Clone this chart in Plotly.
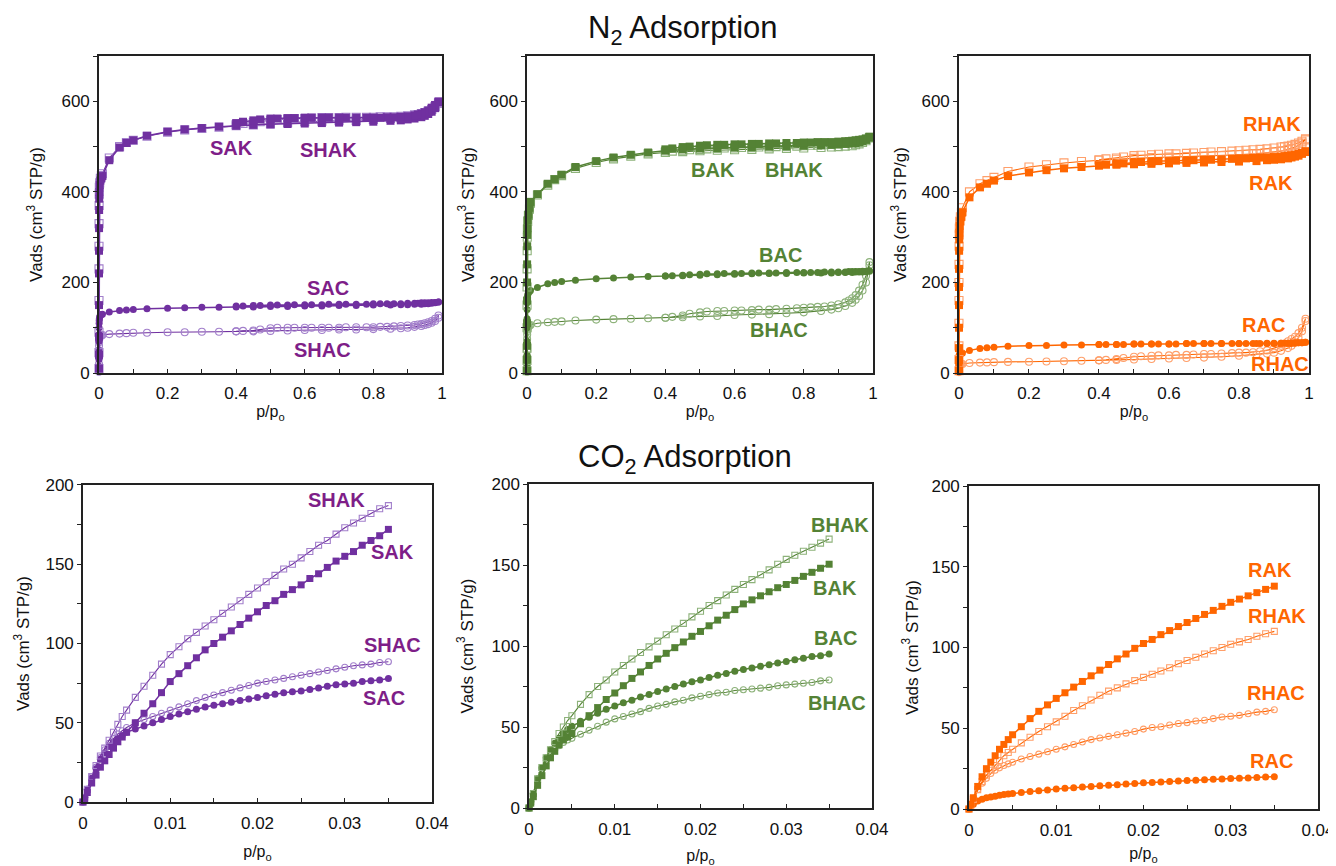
import plotly.graph_objects as go

# ---------------- data ----------------
N2_ADS_P = [0.000001, 0.000005, 0.00001, 0.00003, 0.00006, 0.0001, 0.0002, 0.0004, 0.0007, 0.001,
            0.002, 0.004, 0.007, 0.01, 0.03, 0.06, 0.08, 0.1, 0.14, 0.2, 0.25, 0.3, 0.35, 0.4,
            0.45, 0.5, 0.55, 0.6, 0.65, 0.7, 0.75, 0.8, 0.85, 0.88, 0.9, 0.92, 0.94, 0.95, 0.96,
            0.97, 0.98, 0.99]
N2_DES_P = [0.99, 0.98, 0.97, 0.96, 0.95, 0.94, 0.93, 0.92, 0.9, 0.88, 0.86, 0.84, 0.82, 0.8,
            0.78, 0.75, 0.72, 0.7, 0.67, 0.65, 0.62, 0.6, 0.57, 0.55, 0.52, 0.5, 0.47, 0.45,
            0.42, 0.4]

SAK_ADS = [10, 40, 80, 150, 220, 270, 320, 360, 385, 400, 415, 425, 430, 435, 470, 498, 508, 514,
           524, 533, 538, 541, 544, 546, 548, 549, 550, 551, 552, 553, 554, 555, 557, 558, 560,
           562, 565, 568, 572, 577, 585, 598]
SAK_DES = [600, 592, 586, 580, 576, 573, 571, 569, 567, 566, 565, 565, 564, 564, 564, 564, 564,
           564, 564, 564, 564, 564, 563, 563, 562, 562, 560, 558, 555, 552]
SHAK_ADS = [10, 45, 90, 160, 230, 280, 330, 370, 395, 410, 420, 430, 436, 440, 475, 500, 509, 514,
            523, 532, 537, 540, 543, 546, 548, 550, 553, 555, 556, 557, 558, 560, 562, 564, 566,
            568, 571, 574, 578, 582, 588, 596]
SHAK_DES = [596, 588, 582, 578, 575, 573, 571, 570, 568, 567, 566, 566, 566, 565, 565, 565, 565,
            564, 564, 564, 563, 562, 562, 561, 560, 558, 555, 553, 551, 549]
SAC_ADS = [5, 15, 30, 50, 70, 85, 100, 110, 116, 120, 124, 127, 129, 130, 135, 138, 139, 140, 142,
           143, 144, 145, 145, 146, 146, 147, 147, 148, 148, 149, 149, 150, 150, 151, 151, 152,
           152, 153, 153, 154, 155, 157]
SAC_DES = [157, 156, 156, 155, 155, 155, 154, 154, 154, 153, 153, 153, 153, 153, 152, 152, 152,
           152, 152, 151, 151, 151, 151, 150, 150, 150, 149, 149, 148, 148]
SHAC_ADS = [3, 10, 20, 35, 50, 60, 68, 73, 76, 78, 80, 82, 83, 84, 86, 87, 88, 89, 89, 90, 90, 91,
            91, 92, 92, 93, 94, 95, 95, 96, 96, 97, 98, 99, 100, 102, 104, 106, 108, 111, 115, 122]
SHAC_DES = [127, 120, 115, 112, 110, 108, 107, 106, 105, 104, 103, 102, 102, 101, 101, 101, 101,
            100, 100, 100, 100, 100, 100, 100, 100, 99, 96, 94, 93, 92]

BAK_ADS = [5, 30, 60, 110, 160, 200, 240, 280, 305, 320, 338, 350, 365, 378, 395, 418, 428, 438,
           455, 468, 476, 482, 487, 491, 494, 496, 497, 498, 499, 500, 501, 502, 503, 504, 505,
           506, 507, 508, 510, 512, 515, 520]
BAK_DES = [522, 518, 516, 515, 514, 513, 512, 512, 511, 510, 510, 510, 509, 509, 508, 508, 507,
           507, 506, 506, 505, 505, 504, 504, 503, 502, 500, 499, 496, 494]
BHAK_ADS = [5, 28, 55, 100, 150, 190, 230, 270, 300, 318, 335, 348, 362, 375, 393, 415, 427, 436,
            452, 465, 473, 479, 484, 487, 489, 491, 492, 493, 494, 495, 496, 497, 498, 499, 500,
            501, 502, 504, 506, 509, 513, 519]
BHAK_DES = [520, 516, 513, 511, 510, 509, 508, 507, 506, 505, 504, 503, 503, 502, 501, 500, 500,
            499, 499, 498, 498, 497, 497, 496, 495, 494, 493, 492, 490, 488]
BAC_ADS = [5, 20, 40, 70, 100, 120, 140, 155, 163, 168, 173, 177, 180, 182, 189, 197, 200, 202,
           205, 208, 210, 212, 213, 214, 215, 216, 217, 218, 219, 220, 220, 221, 221, 221, 222,
           222, 222, 223, 223, 223, 224, 225]
BAC_DES = [226, 225, 225, 224, 224, 224, 224, 223, 223, 223, 223, 222, 222, 222, 222, 222, 221,
           221, 221, 221, 220, 220, 220, 219, 219, 218, 217, 216, 215, 214]
BHAC_ADS = [3, 10, 20, 35, 50, 62, 75, 85, 92, 96, 100, 103, 105, 106, 110, 112, 113, 114, 116,
            118, 119, 120, 121, 122, 123, 125, 126, 128, 129, 130, 132, 134, 137, 140, 143, 148,
            155, 162, 170, 182, 200, 238]
BHAC_DES = [245, 215, 195, 182, 172, 165, 160, 156, 152, 149, 147, 146, 145, 144, 143, 142, 141,
            140, 140, 139, 138, 138, 137, 137, 136, 134, 131, 127, 124, 122]

RHAK_ADS = [5, 30, 60, 110, 160, 200, 240, 280, 305, 320, 335, 345, 355, 365, 400, 418, 425, 432,
            445, 455, 460, 464, 467, 470, 472, 474, 476, 477, 478, 479, 480, 482, 484, 486, 488,
            490, 494, 496, 499, 503, 508, 515]
RHAK_DES = [517, 512, 508, 505, 503, 501, 500, 499, 497, 495, 494, 493, 492, 491, 490, 489, 488,
            487, 486, 485, 484, 484, 483, 482, 481, 480, 477, 475, 473, 471]
RAK_ADS = [5, 28, 55, 100, 150, 190, 230, 270, 295, 310, 325, 335, 345, 355, 388, 410, 418, 425,
           435, 443, 448, 452, 455, 458, 460, 461, 462, 463, 464, 465, 466, 467, 468, 470, 471,
           472, 474, 476, 478, 480, 484, 488]
RAK_DES = [490, 486, 484, 482, 481, 480, 479, 478, 477, 476, 476, 475, 474, 474, 473, 472, 471,
           471, 470, 469, 469, 468, 468, 467, 466, 465, 463, 462, 460, 459]
RAC_ADS = [3, 8, 14, 20, 26, 30, 34, 37, 39, 40, 41, 42, 43, 44, 50, 54, 56, 57, 59, 61, 61, 62,
           62, 63, 63, 64, 64, 64, 65, 65, 65, 65, 65, 65, 65, 66, 66, 66, 66, 67, 67, 68]
RAC_DES = [68, 67, 67, 67, 66, 66, 66, 66, 66, 66, 65, 65, 65, 65, 65, 65, 65, 65, 65, 65, 64, 64,
           64, 64, 64, 64, 63, 63, 63, 63]
RHAC_ADS = [2, 5, 8, 11, 13, 14, 15, 16, 17, 18, 19, 19, 20, 20, 22, 23, 23.5, 24, 24.5, 25, 25.5,
            26, 27, 28, 29, 30, 31, 32, 33, 34, 36, 38, 41, 43, 45, 49, 55, 60, 68, 78, 92, 115]
RHAC_DES = [120, 100, 88, 80, 75, 70, 65, 60, 55, 50, 48, 46, 45, 45, 44, 43, 42, 42, 41, 40, 40,
            39, 39, 38, 37, 36, 33, 31, 29, 28]

CO2_P = [0, 0.0002, 0.0005, 0.001, 0.0015, 0.002, 0.0025, 0.003, 0.0035, 0.004, 0.0045, 0.005,
         0.006, 0.007, 0.008, 0.009, 0.010, 0.011, 0.012, 0.013, 0.014, 0.015, 0.016, 0.017,
         0.018, 0.019, 0.020, 0.021, 0.022, 0.023, 0.024, 0.025, 0.026, 0.027, 0.028, 0.029,
         0.030, 0.031, 0.032, 0.033, 0.034, 0.035]

CO2_SHAK = [0, 3, 8, 16, 23, 29, 34, 39, 44, 49, 54, 58, 66, 73, 80, 87, 93, 98, 103, 107, 111,
            115, 119, 123, 127, 131, 135, 139, 143, 147, 150, 154, 158, 162, 165, 169, 173, 176,
            179, 182, 185, 187]
CO2_SAK = [0, 2, 6, 12, 17, 22, 26, 30, 34, 38, 41, 44, 50, 56, 62, 69, 76, 81, 86, 91, 96, 100,
           104, 108, 112, 116, 120, 124, 127, 131, 134, 137, 141, 144, 148, 152, 155, 158, 162,
           165, 168, 172]
CO2_SHAC = [0, 3, 8, 16, 22, 28, 33, 37, 40, 43, 45, 47, 50, 52, 54, 56, 58, 60, 62, 64, 66, 67.5,
            69, 70.5, 72, 73.5, 75, 76, 77, 78, 79, 80, 81, 82, 83, 84, 85, 86, 86.5, 87, 88, 88.5]
CO2_SAC = [0, 3, 8, 15, 21, 27, 31, 35, 38, 40, 42, 44, 46, 48, 50, 52, 54, 55.5, 57, 58.5, 60,
           61, 62, 63, 64, 65, 66, 67, 68, 69, 69.5, 70, 71, 72, 73, 74, 74.5, 75, 76, 76.5, 77, 78]

CO2_BHAK = [0, 4, 9, 18, 25, 31, 36, 41, 46, 50, 54, 57, 64, 70, 75, 79, 84, 88, 92, 96, 99.5,
            103, 107, 110.5, 114, 118, 121.5, 125, 128, 131.5, 135, 138, 141, 144, 147, 150.5,
            153.5, 156, 158.5, 161, 163.5, 166]
CO2_BAK = [0, 3, 7, 14, 20, 26, 31, 35, 39, 42, 44, 46, 52, 57, 62, 67, 71, 75.5, 80, 84, 88, 92,
           95.5, 99, 102.5, 106, 109, 112.5, 116, 119, 122.5, 126, 128.5, 131, 133.5, 136, 138,
           140.5, 143, 145.5, 148, 150.5]
CO2_BAC = [0, 4, 9, 18, 25, 31, 36, 40, 43, 46, 48.5, 50.5, 53.5, 56, 58.5, 61, 63, 65, 66.5,
           68.5, 70, 72, 73.5, 75, 76.5, 78, 79, 80.5, 82, 83, 84.5, 85.5, 86.5, 87.5, 88.5, 89.5,
           90.5, 91.5, 92.5, 93.5, 94, 95]
CO2_BHAC = [0, 4, 9, 18, 24, 29, 33, 36, 38.5, 40.5, 42, 43, 45.5, 48, 50.5, 53, 55, 56.5, 58,
            59.5, 61.5, 63, 64, 65.5, 66.5, 68, 69, 70, 71, 71.5, 72.5, 73, 73.5, 74, 74.5, 75.5,
            76, 76.5, 77, 77.5, 78.5, 79]

CO2_RAK = [0, 3, 7, 14, 20, 25, 29, 33, 37, 40, 43, 46, 51, 56, 60.5, 64.5, 68.5, 72, 75.5, 79,
           82.5, 86, 89.5, 93, 96, 99.5, 102.5, 105, 108, 110.5, 113, 115.5, 118, 120.5, 123,
           125.5, 128, 130, 132, 134, 136, 138]
CO2_RHAK = [0, 2, 6, 12, 17, 21, 24, 27, 30, 33, 35, 37, 41, 44.5, 48, 51, 54, 57.5, 61, 64, 67.5,
            70.5, 73, 75, 77.5, 79.5, 81.5, 83.5, 85.5, 87.5, 90, 92, 94, 96, 98, 100, 102, 103.5,
            105, 107, 108.5, 110]
CO2_RHAC = [0, 2, 6, 12, 16, 19, 22, 24, 25.5, 27, 28, 29, 31, 32.5, 34, 35.5, 37, 38.5, 40, 41.5,
            43, 44, 45, 46, 47, 48, 49.5, 50.5, 51, 52, 53, 53.5, 54.5, 55, 56, 57, 57.5, 58, 59,
            60, 60.5, 61.5]
CO2_RAC = [0, 1.5, 3, 5, 6, 7, 7.5, 8, 8.5, 9, 9.3, 9.6, 10.2, 10.8, 11.3, 11.8, 12.4, 12.8,
           13.2, 13.6, 14, 14.5, 14.8, 15.1, 15.5, 15.8, 16.3, 16.5, 16.8, 17, 17.3, 17.6, 17.9,
           18.1, 18.4, 18.6, 18.9, 19.1, 19.3, 19.5, 19.8, 20]

N2_Y_TICKS = [0, 100, 200, 300, 400, 500, 600, 700]
N2_Y_LABELS = ["0", "", "200", "", "400", "", "600", ""]
N2_X_TICKS = [0, 0.1, 0.2, 0.3, 0.4, 0.5, 0.6, 0.7, 0.8, 0.9, 1.0]
N2_X_LABELS = ["0", "", "0.2", "", "0.4", "", "0.6", "", "0.8", "", "1"]
CO2_Y_TICKS = [0, 25, 50, 75, 100, 125, 150, 175, 200]
CO2_Y_LABELS = ["0", "", "50", "", "100", "", "150", "", "200"]
CO2_X_TICKS = [0, 0.005, 0.01, 0.015, 0.02, 0.025, 0.03, 0.035, 0.04]
CO2_X_LABELS = ["0", "", "0.01", "", "0.02", "", "0.03", "", "0.04"]

# ---------------- style ----------------
FONT = "Liberation Sans, Arial, sans-serif"
PURPLE, PURPLE_L, PURPLE_T = "#7030A0", "#A27FCB", "#7E1E88"
GREEN, GREEN_L, GREEN_T = "#548235", "#8DB27A", "#548235"
ORANGE, ORANGE_L, ORANGE_T = "#FF6600", "#FF9F6A", "#FF6600"

fig = go.Figure()

# panel: (x domain, y domain, y-title standoff, x-title standoff, ticklabel standoff)
PANELS = {
    1: ([0.0681, 0.3248], [0.5785, 0.9445], 14, 4, 4),
    2: ([0.3885, 0.6474], [0.5785, 0.9445], 11, 4, 4),
    3: ([0.7118, 0.9738], [0.5785, 0.9445], 10, 4, 4),
    4: ([0.0561, 0.3174], [0.0831, 0.4492], 11, 14, 5),
    5: ([0.3900, 0.6467], [0.0762, 0.4503], 14, 12, 5),
    6: ([0.7193, 0.9805], [0.0750, 0.4480], 9, 9, 5),
}


def ax(i):
    return ("x" if i == 1 else f"x{i}"), ("y" if i == 1 else f"y{i}")


def add_series(i, xs, ys, color, light, filled, square, size):
    xa, ya = ax(i)
    if filled:
        sym = "square" if square else "circle"
        marker = dict(symbol=sym, size=size, color=color, line=dict(width=0))
        lw = 1.5
    else:
        sym = "square-open" if square else "circle-open"
        marker = dict(symbol=sym, size=size, color=light, line=dict(width=1.1, color=light))
        lw = 1.1
    fig.add_trace(go.Scatter(x=xs, y=ys, xaxis=xa, yaxis=ya, mode="lines+markers",
                             line=dict(color=color, width=lw), marker=marker,
                             cliponaxis=False, showlegend=False, hoverinfo="x+y"))


def add_n2(i, ads, des, color, light, filled, square):
    add_series(i, N2_ADS_P + N2_DES_P, ads + des, color, light, filled, square,
               8 if square else 7)


add_n2(1, SHAC_ADS, SHAC_DES, PURPLE, PURPLE_L, False, False)
add_n2(1, SAC_ADS, SAC_DES, PURPLE, PURPLE_L, True, False)
add_n2(1, SHAK_ADS, SHAK_DES, PURPLE, PURPLE_L, False, True)
add_n2(1, SAK_ADS, SAK_DES, PURPLE, PURPLE_L, True, True)

add_n2(2, BHAC_ADS, BHAC_DES, GREEN, GREEN_L, False, False)
add_n2(2, BAC_ADS, BAC_DES, GREEN, GREEN_L, True, False)
add_n2(2, BHAK_ADS, BHAK_DES, GREEN, GREEN_L, False, True)
add_n2(2, BAK_ADS, BAK_DES, GREEN, GREEN_L, True, True)

add_n2(3, RHAC_ADS, RHAC_DES, ORANGE, ORANGE_L, False, False)
add_n2(3, RAC_ADS, RAC_DES, ORANGE, ORANGE_L, True, False)
add_n2(3, RHAK_ADS, RHAK_DES, ORANGE, ORANGE_L, False, True)
add_n2(3, RAK_ADS, RAK_DES, ORANGE, ORANGE_L, True, True)

add_series(4, CO2_P, CO2_SHAC, PURPLE, PURPLE_L, False, False, 6)
add_series(4, CO2_P, CO2_SAC, PURPLE, PURPLE_L, True, False, 7)
add_series(4, CO2_P, CO2_SHAK, PURPLE, PURPLE_L, False, True, 6)
add_series(4, CO2_P, CO2_SAK, PURPLE, PURPLE_L, True, True, 7)

add_series(5, CO2_P, CO2_BHAC, GREEN, GREEN_L, False, False, 6)
add_series(5, CO2_P, CO2_BAC, GREEN, GREEN_L, True, False, 7)
add_series(5, CO2_P, CO2_BHAK, GREEN, GREEN_L, False, True, 6)
add_series(5, CO2_P, CO2_BAK, GREEN, GREEN_L, True, True, 7)

add_series(6, CO2_P, CO2_RHAC, ORANGE, ORANGE_L, False, False, 6)
add_series(6, CO2_P, CO2_RAC, ORANGE, ORANGE_L, True, False, 7)
add_series(6, CO2_P, CO2_RHAK, ORANGE, ORANGE_L, False, True, 6)
add_series(6, CO2_P, CO2_RAK, ORANGE, ORANGE_L, True, True, 7)

layout = dict(width=1336, height=866, margin=dict(l=0, r=0, t=0, b=0, pad=0, autoexpand=False),
              paper_bgcolor="white", plot_bgcolor="white",
              font=dict(family=FONT, size=17, color="#111111"))

for i, (xd, yd, ysto, xsto, tls) in PANELS.items():
    xa, ya = ax(i)
    xk = "xaxis" if i == 1 else f"xaxis{i}"
    yk = "yaxis" if i == 1 else f"yaxis{i}"
    n2 = i <= 3
    layout[xk] = dict(domain=xd, anchor=ya, automargin=False,
                      range=[0, 1] if n2 else [0, 0.04],
                      tickvals=N2_X_TICKS if n2 else CO2_X_TICKS,
                      ticktext=N2_X_LABELS if n2 else CO2_X_LABELS,
                      ticks="inside", ticklen=4, tickcolor="#222", tickwidth=1,
                      ticklabelstandoff=tls,
                      showline=True, linecolor="#222", linewidth=1.5, mirror=True,
                      showgrid=False, zeroline=False,
                      tickfont=dict(size=17),
                      title=dict(text="p/p<sub>o</sub>", font=dict(size=16), standoff=xsto))
    layout[yk] = dict(domain=yd, anchor=xa, automargin=False,
                      range=[0, 700] if n2 else [0, 200],
                      tickvals=N2_Y_TICKS if n2 else CO2_Y_TICKS,
                      ticktext=N2_Y_LABELS if n2 else CO2_Y_LABELS,
                      ticks="outside", ticklen=4, tickcolor="#222", tickwidth=1,
                      showline=True, linecolor="#222", linewidth=1.5, mirror=True,
                      showgrid=False, zeroline=False,
                      tickfont=dict(size=17),
                      title=dict(text="Vads (cm<sup>3</sup> STP/g)", font=dict(size=17),
                                 standoff=ysto))

fig.update_layout(**layout)

LABELS = [
    (1, "SAK", 0.385, 497, PURPLE_T), (1, "SHAK", 0.668, 492, PURPLE_T),
    (1, "SAC", 0.668, 188, PURPLE_T), (1, "SHAC", 0.653, 51, PURPLE_T),
    (2, "BAK", 0.538, 448, GREEN_T), (2, "BHAK", 0.772, 448, GREEN_T),
    (2, "BAC", 0.734, 261, GREEN_T), (2, "BHAC", 0.728, 95, GREEN_T),
    (3, "RHAK", 0.894, 550, ORANGE_T), (3, "RAK", 0.891, 420, ORANGE_T),
    (3, "RAC", 0.869, 106, ORANGE_T), (3, "RHAC", 0.917, 20, ORANGE_T),
    (4, "SHAK", 0.0290, 190.5, PURPLE_T), (4, "SAK", 0.0355, 158, PURPLE_T),
    (4, "SHAC", 0.0355, 99, PURPLE_T), (4, "SAC", 0.0345, 65.6, PURPLE_T),
    (5, "BHAK", 0.0363, 175, GREEN_T), (5, "BAK", 0.0357, 136, GREEN_T),
    (5, "BAC", 0.0357, 105, GREEN_T), (5, "BHAC", 0.0359, 65, GREEN_T),
    (6, "RAK", 0.0345, 148, ORANGE_T), (6, "RHAK", 0.0353, 119.5, ORANGE_T),
    (6, "RHAC", 0.0352, 72, ORANGE_T), (6, "RAC", 0.0347, 30, ORANGE_T),
]
for i, txt, x, y, c in LABELS:
    xa, ya = ax(i)
    fig.add_annotation(x=x, y=y, xref=xa, yref=ya, text=f"<b>{txt}</b>", showarrow=False,
                       font=dict(size=20, color=c, family=FONT))

fig.add_annotation(x=0.505, y=0.9748, xref="paper", yref="paper", yanchor="middle",
                   text="N<sub>2</sub> Adsorption",
                   showarrow=False, font=dict(size=31, color="#111111", family=FONT))
fig.add_annotation(x=0.507, y=0.479, xref="paper", yref="paper", yanchor="middle",
                   text="CO<sub>2</sub> Adsorption",
                   showarrow=False, font=dict(size=31, color="#111111", family=FONT))

fig.write_html("out.html")
